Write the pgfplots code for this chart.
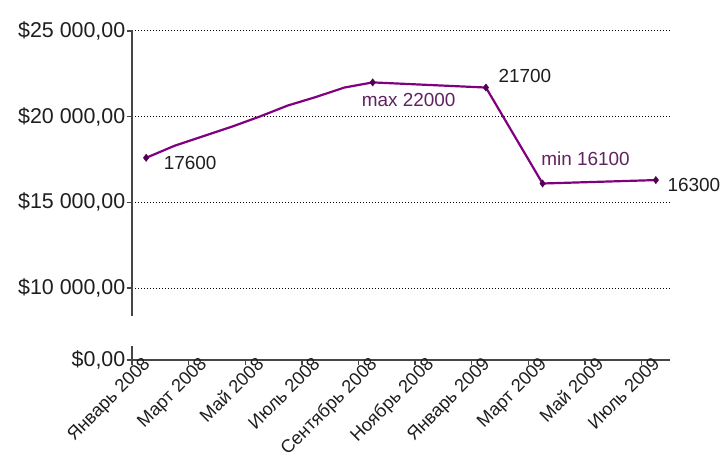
\documentclass[border=0pt]{standalone}
\usepackage{pgfplots}
\pgfplotsset{compat=1.18}
\usepackage{fontspec}
\setmainfont{Liberation Sans}

\definecolor{linepurple}{RGB}{128,0,128}
\definecolor{markpurple}{RGB}{80,0,80}
\definecolor{lblpurple}{RGB}{95,35,95}
\definecolor{axisgray}{RGB}{70,70,70}
\definecolor{txt}{RGB}{30,30,30}

\begin{document}
\begin{tikzpicture}
\begin{axis}[
  scale only axis,
  width=538bp, height=329bp,
  xmin=-0.5, xmax=18.5,
  ymin=5800, ymax=25000,
  clip=false,
  scaled y ticks=false,
  axis lines*=left,
  x axis line style={axisgray, line width=2bp},
  y axis line style={draw=none},
  tick align=outside,
  major tick length=5bp,
  tick style={axisgray, line width=1.4bp},
  xtick={-0.5,1.5,...,17.5},
  xticklabels={Январь 2008, Март 2008, Май 2008, Июль 2008, Сентябрь 2008,
               Ноябрь 2008, Январь 2009, Март 2009, Май 2009, Июль 2009},
  xticklabel style={font=\fontsize{18.3}{21}\selectfont, text=txt,
                    rotate=45, anchor=north east, inner sep=0.5bp,
                    xshift=14bp, yshift=0bp},
  ytick={5800,10000,15000,20000,25000},
  yticklabels={{\$0,00},{\$10 000,00},{\$15 000,00},{\$20 000,00},{\$25 000,00}},
  yticklabel style={font=\fontsize{21.5}{25}\selectfont, text=txt, inner sep=1.5bp},
  ymajorgrids,
  grid style={black, line width=1bp, dash pattern=on 1bp off 2bp},
]
  % monthly values, months counted from January 2008
  \addplot[linepurple, line width=2.2bp, mark=diamond*, mark size=3.6bp,
           mark indices={1,9,10,11,12},
           mark options={markpurple, fill=markpurple, line width=0.5bp}]
    coordinates {
      (0,17600) (1,18300) (2,18850) (3,19400) (4,20000) (5,20650)
      (6,21150) (7,21700) (8,22000) (12,21700) (14,16100) (18,16300)
    };

  % y axis with a break between $0 and $10 000
  \draw[axisgray, line width=2bp] (axis cs:-0.5,25080) -- (axis cs:-0.5,8340);
  \draw[axisgray, line width=2bp] (axis cs:-0.5,6640) -- (axis cs:-0.5,5800);

  % value labels
  \begin{scope}[every node/.style={font=\fontsize{19}{22}\selectfont, inner sep=0pt}]
    \node[text=txt]       at (axis cs:0,17600)  [xshift=44bp, yshift=-5bp]  {17600};
    \node[text=lblpurple] at (axis cs:8,22000)  [xshift=36bp, yshift=-18bp] {max 22000};
    \node[text=txt]       at (axis cs:12,21700) [xshift=39bp, yshift=12bp]  {21700};
    \node[text=lblpurple] at (axis cs:14,16100) [xshift=43bp, yshift=25bp]  {min 16100};
    \node[text=txt]       at (axis cs:18,16300) [xshift=38bp, yshift=-5bp]  {16300};
  \end{scope}

  \coordinate (O) at (rel axis cs:0,0);
\end{axis}
\pgfresetboundingbox
\path[use as bounding box] (O) ++(-132bp,-102bp) rectangle ++(723bp,462bp);
\end{tikzpicture}
\end{document}
